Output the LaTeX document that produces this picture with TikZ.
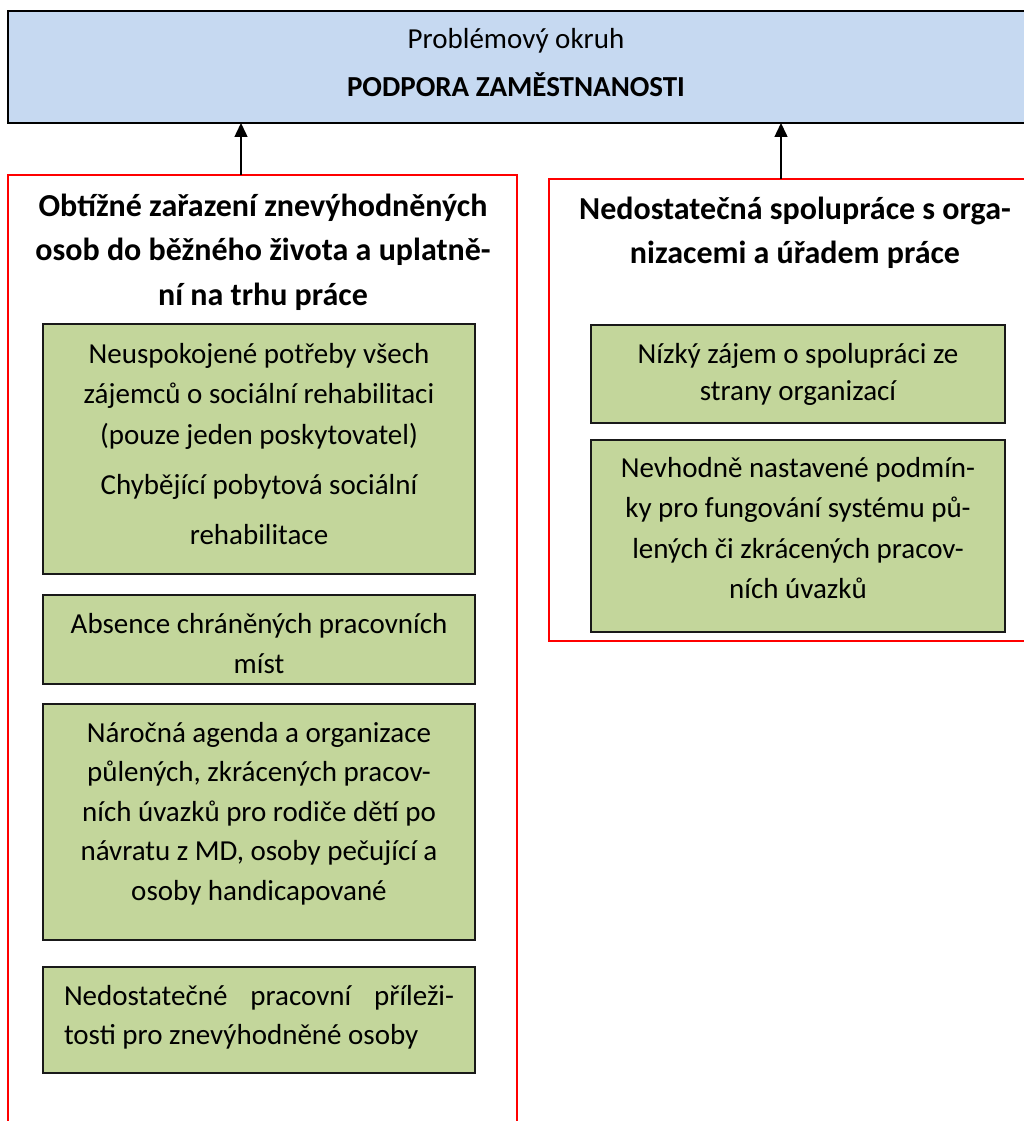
\documentclass[tikz,border=0pt]{standalone}
\usepackage{fontspec}
\setmainfont{Carlito}
\usetikzlibrary{arrows.meta}
\definecolor{bluefill}{HTML}{C6D9F1}
\definecolor{greenfill}{HTML}{C3D69B}
\definecolor{redline}{HTML}{FF0000}
\tikzset{
  bluebox/.style={draw=black, line width=2pt, fill=bluefill, anchor=north west, inner sep=0pt, outer sep=0pt},
  redbox/.style={draw=redline, line width=1.5pt, anchor=north west, inner sep=0pt, outer sep=0pt},
  greenbox/.style={draw=black!90, line width=2pt, fill=greenfill, anchor=north west, inner sep=0pt, outer sep=0pt},
  txt/.style={anchor=base, inner sep=0pt, outer sep=0pt},
  arr/.style={line width=1.5pt, -{Triangle[length=14pt,width=13pt]}}
}
\newcommand{\regtext}{\fontsize{29}{40.5}\selectfont}
\newcommand{\titletext}{\fontsize{32}{44.5}\selectfont\bfseries}
\begin{document}
\begin{tikzpicture}[x=1pt,y=-1pt]
\useasboundingbox (0,0) rectangle (1024,1121);
\clip (0,0) rectangle (1024,1121);
% top box
\node[bluebox, minimum width=1040pt, minimum height=112pt] (top) at (8,11) {};
\node[txt, font=\fontsize{29}{35}\selectfont] (t1) at (516,49) {Problémový okruh};
\node[txt, font=\fontsize{29}{35}\selectfont\bfseries] (t2) at (516,97) {PODPORA ZAMĚSTNANOSTI};
% red frames
\node[redbox, minimum width=509pt, minimum height=1000pt] (L) at (8,175) {};
\node[redbox, minimum width=500pt, minimum height=462pt] (R) at (549,179) {};
% arrows
\coordinate (a1) at (241,0);
\coordinate (a2) at (781,0);
\draw[arr] (L.north -| a1) -- (top.south -| a1);
\draw[arr] (R.north -| a2) -- (top.south -| a2);
% titles
\node[txt] (Lt) at (263,216) {\parbox[t]{500pt}{\centering\titletext Obtížné zařazení znevýhodněných\\osob do běžného života a uplatně-\\ní na trhu práce}};
\node[txt] (Rt) at (795,219) {\parbox[t]{470pt}{\centering\titletext Nedostatečná spolupráce s orga-\\nizacemi a úřadem práce}};
% left green boxes
\node[greenbox, minimum width=432pt, minimum height=250pt] (g1) at (43,324) {};
\node[greenbox, minimum width=432pt, minimum height=89pt] (g2) at (43,595) {};
\node[greenbox, minimum width=432pt, minimum height=236pt] (g3) at (43,704) {};
\node[greenbox, minimum width=432pt, minimum height=106pt] (g4) at (43,967) {};
\node[txt] (g1t) at (259,363) {\parbox[t]{420pt}{\centering\regtext Neuspokojené potřeby všech\\zájemců o sociální rehabilitaci\\(pouze jeden poskytovatel)\\[9.5pt]Chybějící pobytová sociální\\[9.5pt]rehabilitace}};
\node[txt] (g2t) at (259,633) {\parbox[t]{420pt}{\centering\regtext Absence chráněných pracovních\\míst}};
\node[txt] (g3t) at (259,742) {\parbox[t]{420pt}{\centering\fontsize{29}{39.5}\selectfont Náročná agenda a organizace\\půlených, zkrácených pracov-\\ních úvazků pro rodiče dětí po\\návratu z MD, osoby pečující a\\osoby handicapované}};
\node[txt] (g4t) at (259,1005) {\parbox[t]{390pt}{\raggedright\fontsize{29}{39.5}\selectfont Nedostatečné\hfill pracovní\hfill příleži-\\tosti pro znevýhodněné osoby}};
% right green boxes
\node[greenbox, minimum width=414pt, minimum height=98pt] (r1) at (591,325) {};
\node[greenbox, minimum width=414pt, minimum height=192pt] (r2) at (591,440) {};
\node[txt] (r1t) at (798,363) {\parbox[t]{400pt}{\centering\fontsize{29}{37.5}\selectfont Nízký zájem o spolupráci ze\\strany organizací}};
\node[txt] (r2t) at (798,477) {\parbox[t]{400pt}{\centering\regtext Nevhodně nastavené podmín-\\ky pro fungování systému pů-\\lených či zkrácených pracov-\\ních úvazků}};
\end{tikzpicture}
\end{document}
